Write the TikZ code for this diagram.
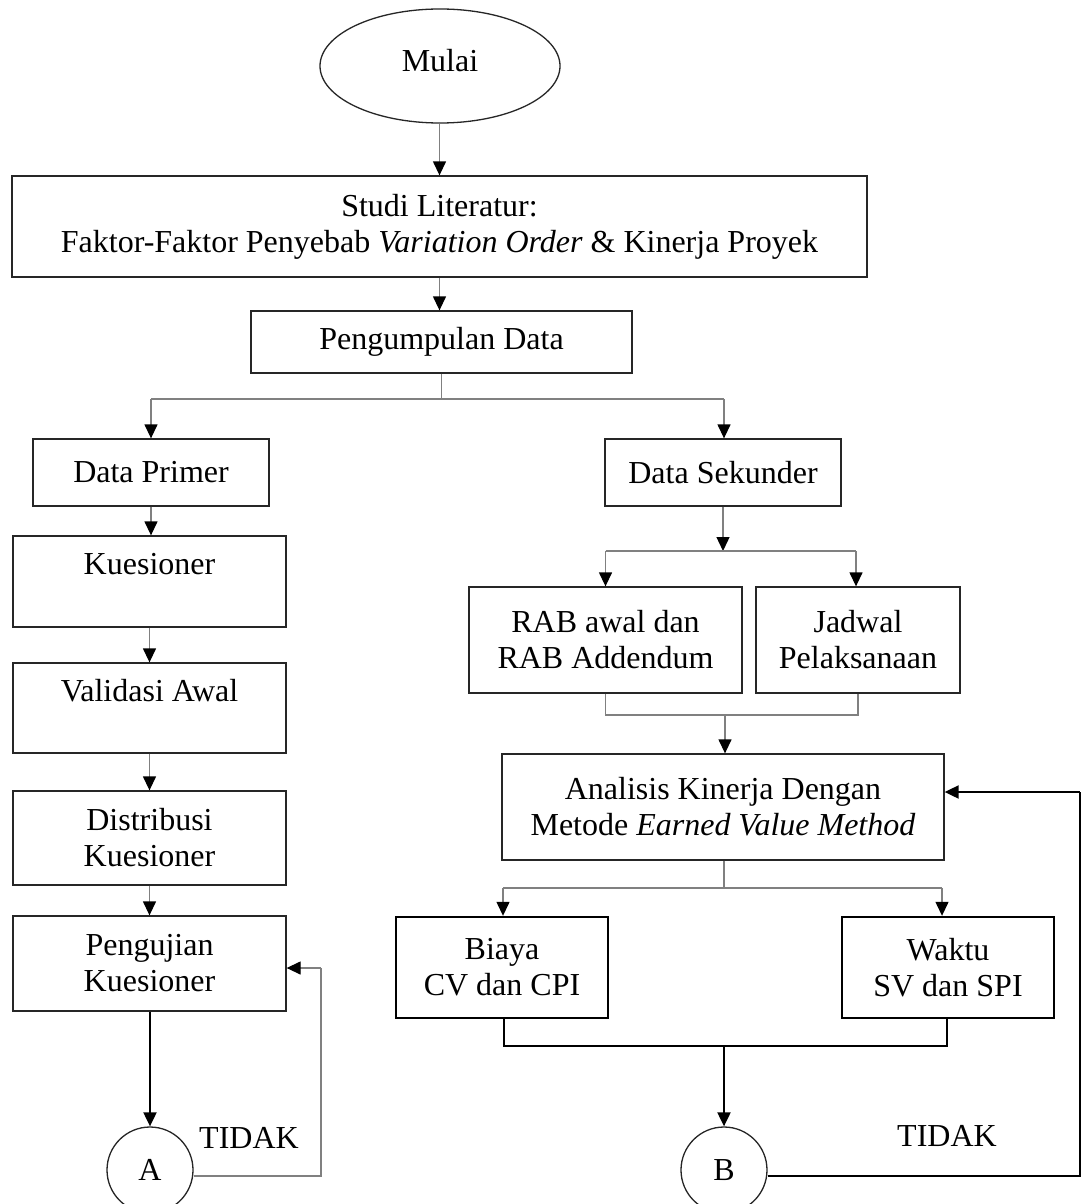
\documentclass[tikz,border=0pt]{standalone}
\usepackage{fontspec}
\setmainfont{Liberation Serif}
\usetikzlibrary{arrows.meta,shapes.geometric}
\begin{document}
\begin{tikzpicture}[x=1pt,y=-1pt,
  txt/.style={font=\fontsize{32}{36}\selectfont},
  box/.style={txt,draw=black!85,line width=1.3pt,inner sep=0pt,align=center},
  sz/.style 2 args={minimum width=#1pt,minimum height=#2pt},
  thickbox/.style={box,draw=black,line width=2.4pt},
  conn/.style={draw=black!50,line width=1.3pt},
  arr/.style={conn,-{Triangle[length=14pt,width=13pt,color=black]}},
  barr/.style={draw=black,line width=2pt,-{Triangle[length=14pt,width=13pt]}},
  tconn/.style={draw=black,line width=2.4pt},
  conncirc/.style={txt,draw=black!85,line width=1.3pt,circle,inner sep=0pt,minimum size=86pt}]
\useasboundingbox (0,0) rectangle (1083,1204);
\fill[white] (0,0) rectangle (1083,1204);

% nodes
\node[box,ellipse,sz={240}{114}] (mulai) at (440,66) {\raisebox{11pt}{Mulai}};
\node[box,sz={855}{101}] (studi) at (439.5,226.5) {Studi Literatur:\\Faktor-Faktor Penyebab \textit{Variation Order} \& Kinerja Proyek};
\node[box,sz={381}{62}] (kumpul) at (441.5,342) {Pengumpulan Data};
\node[box,sz={236}{67}] (primer) at (151,472.5) {Data Primer};
\node[box,sz={236}{67}] (sekunder) at (723,472.5) {Data Sekunder};
\node[box,sz={273}{91}] (kues) at (149.5,581.5) {Kuesioner\\\mbox{}};
\node[box,sz={273}{90}] (valid) at (149.5,708) {Validasi Awal\\\mbox{}};
\node[box,sz={273}{94}] (distr) at (149.5,838) {Distribusi\\Kuesioner};
\node[box,sz={273}{95}] (uji) at (149.5,963.5) {Pengujian\\Kuesioner};
\node[conncirc] (A) at (150,1170) {A};
\node[box,sz={273}{106}] (rab) at (605.5,640) {RAB awal dan\\RAB Addendum};
\node[box,sz={204}{106}] (jadwal) at (858,640) {Jadwal\\Pelaksanaan};
\node[box,sz={442}{106}] (evm) at (723,807) {Analisis Kinerja Dengan\\Metode \textit{Earned Value Method}};
\node[thickbox,sz={212}{101}] (biaya) at (502,967.5) {Biaya\\CV dan CPI};
\node[thickbox,sz={212}{101}] (waktu) at (948,967.5) {Waktu\\SV dan SPI};
\node[conncirc] (B) at (724,1170) {B};
\node[txt] (tidakA) at (249,1138) {TIDAK};
\node[txt] (tidakB) at (947,1136) {TIDAK};

% coordinates
\coordinate (j1) at (441.5,399);
\coordinate (j1l) at (151,399);
\coordinate (j1r) at (724,399);
\coordinate (j2) at (723,551);
\coordinate (j2l) at (605.5,551);
\coordinate (j2r) at (856,551);
\coordinate (m1) at (725,715);
\coordinate (j3) at (724,888);
\coordinate (j3l) at (503,888);
\coordinate (j3r) at (942,888);
\coordinate (m2) at (724,1046);
\coordinate (fa) at (321,968);
\coordinate (fb) at (1080,792);

% connectors
\draw[arr] (mulai.south -| studi.north) -- (studi.north);
\draw[arr] (studi.south) -- (kumpul.north -| studi.south);
\draw[conn] (kumpul.south) -- (j1);
\draw[conn] (j1l) -- (j1r);
\draw[arr] (j1l) -- (primer.north);
\draw[arr] (j1r) -- (sekunder.north -| j1r);
\draw[arr] (primer.south) -- (kues.north -| primer.south);
\draw[arr] (kues.south) -- (valid.north);
\draw[arr] (valid.south) -- (distr.north);
\draw[arr] (distr.south) -- (uji.north);
\draw[barr] (uji.south -| A.north) -- (A.north);
\draw[conn] (A.east |- 0,1176) -| (fa);
\draw[arr] (fa) -- (uji.east |- fa);

\draw[arr] (sekunder.south) -- (j2);
\draw[conn] (j2l) -- (j2r);
\draw[arr] (j2l) -- (rab.north -| j2l);
\draw[arr] (j2r) -- (jadwal.north -| j2r);
\draw[conn] (rab.south) |- (m1) -| (jadwal.south);
\draw[arr] (m1) -- (evm.north -| m1);
\draw[conn] (evm.south -| j3) -- (j3);
\draw[conn] (j3l) -- (j3r);
\draw[arr] (j3l) -- (biaya.north -| j3l);
\draw[arr] (j3r) -- (waktu.north -| j3r);
\draw[tconn] (biaya.south -| 504,0) |- (m2) -| (waktu.south -| 947,0);
\draw[barr] (m2) -- (B.north);
\draw[draw=black,line width=1.3pt] (B.east |- 0,1176) -| (fb);
\draw[barr] (fb) -- (evm.east |- fb);
\end{tikzpicture}
\end{document}
